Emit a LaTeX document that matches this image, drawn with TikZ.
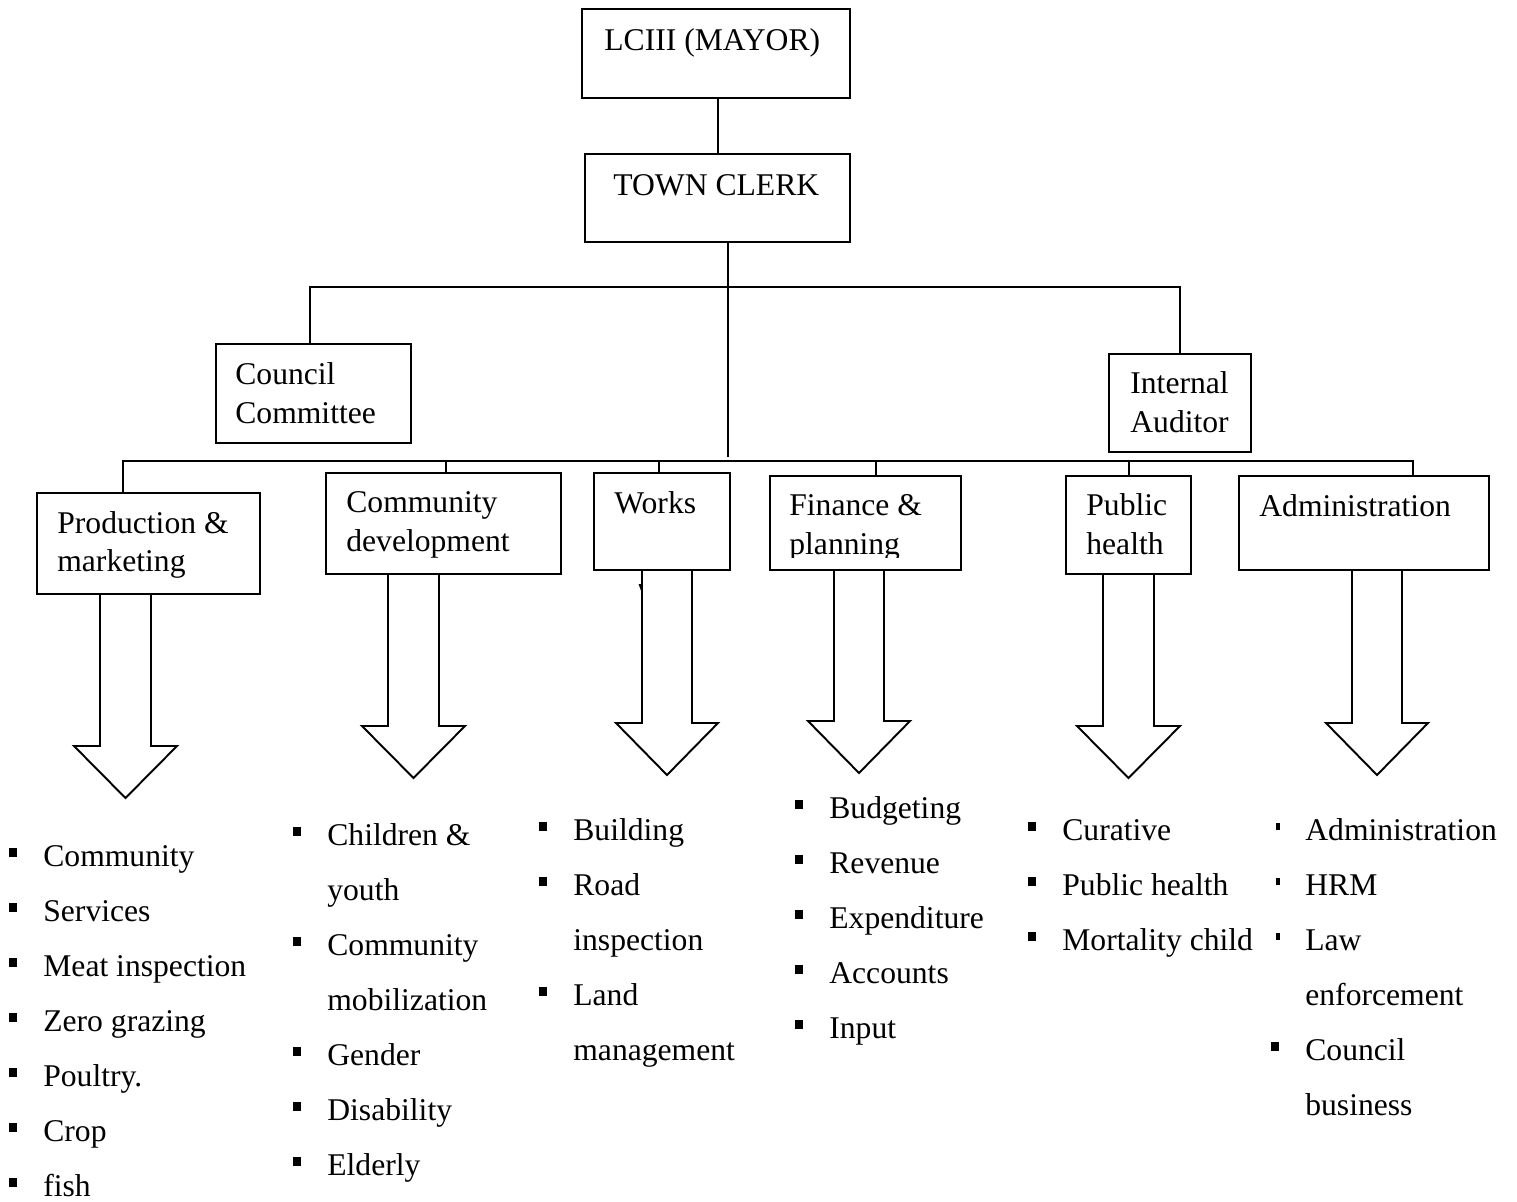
\documentclass[tikz,border=0pt]{standalone}
\usepackage{fontspec}
\setmainfont{Liberation Serif}
\begin{document}
\begin{tikzpicture}[x=0.02cm,y=-0.02cm,
  ln/.style={line width=1.1pt},
  box/.style={draw,line width=1.1pt,inner sep=0pt,anchor=north west},
  txt/.style={anchor=base west,inner sep=0pt,font=\fontsize{18}{22}\selectfont}]
\useasboundingbox (0,0) rectangle (1517,1201);
\newcommand\bigarrow[4]{%
  \draw[ln,line join=miter] (#2,0 |- #1.south) -- (#2,#4) -- ({#2-26},#4) -- ({(#2+#3)/2},{#4+52}) -- ({#3+26},#4) -- (#3,#4) -- (#3,0 |- #1.south);}
\newcommand\itm[4]{%
  \fill ({#2-34},{#3-18}) rectangle ({#2-26},{#3-9});
  \node[txt] (#1) at (#2,#3) {#4};}
\newcommand\itmn[4]{%
  \fill ({#2-29},{#3-17}) rectangle ({#2-25},{#3-10});
  \node[txt] (#1) at (#2,#3) {#4};}
% boxes
\node[box,minimum width=5.36cm,minimum height=1.78cm] (mayor) at (581,8) {};
\node[box,minimum width=5.30cm,minimum height=1.76cm] (clerk) at (584,153) {};
\node[box,minimum width=3.90cm,minimum height=1.98cm] (cc) at (215,343) {};
\node[box,minimum width=2.84cm,minimum height=1.96cm] (ia) at (1108,353) {};
\node[box,minimum width=4.46cm,minimum height=2.02cm] (prod) at (36,492) {};
\node[box,minimum width=4.70cm,minimum height=2.02cm] (comm) at (325,472) {};
\node[box,minimum width=2.72cm,minimum height=1.94cm] (works) at (593,472) {};
\node[box,minimum width=3.82cm,minimum height=1.88cm] (fin) at (769,475) {};
\node[box,minimum width=2.50cm,minimum height=1.96cm] (ph) at (1065,475) {};
\node[box,minimum width=5.00cm,minimum height=1.88cm] (admin) at (1238,475) {};
% box texts
\node[txt] (mayorT) at (604,50) {LCIII (MAYOR)};
\node[txt] (clerkT) at (613,195) {TOWN CLERK};
\node[txt] (ccT1) at (235,384) {Council};
\node[txt] (ccT2) at (235,423) {Committee};
\node[txt] (iaT1) at (1130,393) {Internal};
\node[txt] (iaT2) at (1130,432) {Auditor};
\node[txt] (prodT1) at (57,533) {Production \&};
\node[txt] (prodT2) at (57,571) {marketing};
\node[txt] (commT1) at (346,512) {Community};
\node[txt] (commT2) at (346,551) {development};
\node[txt] (worksT) at (614,513) {Works};
\node[txt] (finT1) at (789,515) {Finance \&};
\begin{scope}
\clip (769,475) rectangle (960,557);
\node[txt] (finT2) at (789,554) {planning};
\end{scope}
\node[txt] (phT1) at (1086,515) {Public};
\node[txt] (phT2) at (1086,554) {health};
\node[txt] (adminT) at (1259,516) {Administration};
% connectors
\coordinate (m1) at (718,0);
\draw[ln] (mayor.south -| m1) -- (clerk.north -| m1);
\coordinate (c1) at (728,457);
\draw[ln] (clerk.south -| c1) -- (c1);
\coordinate (ubL) at (310,287);
\coordinate (ubR) at (1180,287);
\draw[ln] (cc.north -| ubL) -- (ubL) -- (ubR) -- (ia.north -| ubR);
\coordinate (lbL) at (123,461);
\coordinate (lbR) at (1413,461);
\draw[ln] (prod.north -| lbL) -- (lbL) -- (lbR) -- (admin.north -| lbR);
\coordinate (d2) at (446,461);
\coordinate (d3) at (659,461);
\coordinate (d4) at (876,461);
\coordinate (d5) at (1129,461);
\draw[ln] (d2) -- (comm.north -| d2);
\draw[ln] (d3) -- (works.north -| d3);
\draw[ln] (d4) -- (fin.north -| d4);
\draw[ln] (d5) -- (ph.north -| d5);
% block arrows
\bigarrow{prod}{100}{151}{746}
\bigarrow{comm}{388}{439}{726}
\bigarrow{works}{642}{692}{723}
\bigarrow{fin}{834}{884}{721}
\bigarrow{ph}{1103}{1154}{726}
\bigarrow{admin}{1352}{1402}{723}
\fill (638.5,584) -- (641.5,584) -- (641.5,592) -- cycle;
% lists
\itm{p1}{43}{866}{Community}
\itm{p2}{43}{921}{Services}
\itm{p3}{43}{976}{Meat inspection}
\itm{p4}{43}{1031}{Zero grazing}
\itm{p5}{43}{1086}{Poultry.}
\itm{p6}{43}{1141}{Crop}
\itm{p7}{43}{1196}{fish}
\itm{c1t}{327}{845}{Children \&}
\node[txt] (c1b) at (327,900) {youth};
\itm{c2t}{327}{955}{Community}
\node[txt] (c2b) at (327,1010) {mobilization};
\itm{c3}{327}{1065}{Gender}
\itm{c4}{327}{1120}{Disability}
\itm{c5}{327}{1175}{Elderly}
\itm{w1}{573}{840}{Building}
\itm{w2t}{573}{895}{Road}
\node[txt] (w2b) at (573,950) {inspection};
\itm{w3t}{573}{1005}{Land}
\node[txt] (w3b) at (573,1060) {management};
\itm{f1}{829}{818}{Budgeting}
\itm{f2}{829}{873}{Revenue}
\itm{f3}{829}{928}{Expenditure}
\itm{f4}{829}{983}{Accounts}
\itm{f5}{829}{1038}{Input}
\itm{h1}{1062}{840}{Curative}
\itm{h2}{1062}{895}{Public health}
\itm{h3}{1062}{950}{Mortality child}
\itmn{a1}{1305}{840}{Administration}
\itmn{a2}{1305}{895}{HRM}
\itmn{a3t}{1305}{950}{Law}
\node[txt] (a3b) at (1305,1005) {enforcement};
\itm{a4t}{1305}{1060}{Council}
\node[txt] (a4b) at (1305,1115) {business};
\end{tikzpicture}
\end{document}
